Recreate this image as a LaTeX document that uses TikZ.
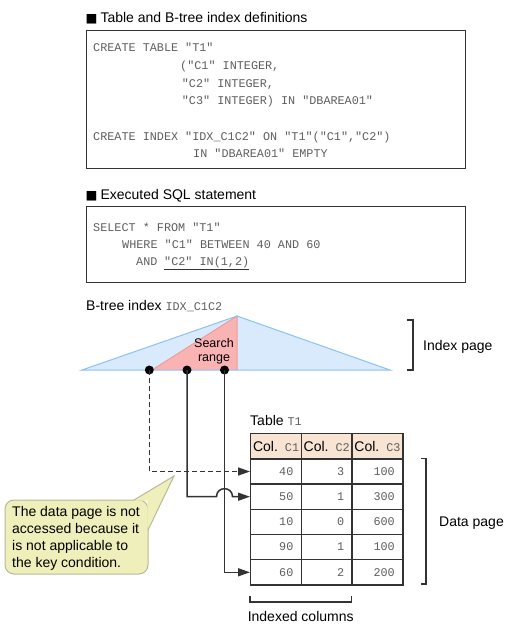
\documentclass[tikz,border=0pt]{standalone}
\usepackage{fontspec}
\setmainfont{Liberation Sans}
\setmonofont{Liberation Mono}
\newfontfamily\symfont{DejaVu Sans}
\usetikzlibrary{arrows.meta,calc}
\definecolor{codegray}{HTML}{5E5E5E}
\definecolor{linegray}{HTML}{333333}
\definecolor{boxline}{HTML}{333333}
\definecolor{bluefill}{HTML}{D8EAFB}
\definecolor{blueedge}{HTML}{8CC2F2}
\definecolor{redfill}{HTML}{F9B3B3}
\definecolor{rededge}{HTML}{EE9C9C}
\definecolor{headfill}{HTML}{F7E4D3}
\definecolor{notefill}{HTML}{EFEFBB}
\definecolor{noteedge}{HTML}{B8B896}
\newcommand\mysans{\fontsize{14}{16.9}\selectfont}
\newcommand\mymono{\fontsize{11.8}{17.6}\selectfont\ttfamily\color{codegray}}
\newcommand\blksq{{\symfont\fontsize{12.5}{12.5}\selectfont ■}}
\begin{document}
\begin{tikzpicture}[x=1pt,y=-1pt,
  lbl/.style={font=\mysans, inner sep=0pt, anchor=base west},
  code/.style={font=\mymono, inner sep=0pt, anchor=base west},
  codebox/.style={draw=boxline, line width=1.3pt, anchor=north west, inner sep=0pt},
  dot/.style={circle, fill=black, inner sep=0pt, minimum size=9pt},
  conn/.style={draw=linegray, line width=1.5pt, -{Triangle[length=12pt,width=8pt]}},
  brk/.style={draw=linegray, line width=1.2pt},
  cell/.style={draw=boxline, line width=1.4pt, minimum height=25.2pt, text width=34.7pt,
    inner xsep=8pt, inner ysep=0pt, align=right, font=\mymono, anchor=north west},
  headcell/.style={cell, fill=headfill, align=center, inner xsep=1pt, text width=48.7pt, font=\mysans},
  uline/.style={draw=linegray, line width=1.3pt}
]
\useasboundingbox (0,0) rectangle (508,629);

% ---- definitions box
\node[lbl] (t1) at (85.5,23) {\blksq\hspace{3pt}Table and B-tree index definitions};
\node[codebox, minimum width=379pt, minimum height=138pt] (box1) at (85.5,30) {};
\node[code] (l1) at (93,51.5) {CREATE TABLE "T1"};
\node[code] (l2) at (180,69.3) {("C1" INTEGER,};
\node[code] (l3) at (181.7,87) {"C2" INTEGER,};
\node[code] (l4) at (181.7,104.5) {"C3" INTEGER) IN "DBAREA01"};
\node[code] (l5) at (93,140.5) {CREATE INDEX "IDX\_C1C2" ON "T1"("C1","C2")};
\node[code] (l6) at (193,157) {IN "DBAREA01" EMPTY};

% ---- SQL box
\node[lbl] (t2) at (85.5,199.3) {\blksq\hspace{3pt}Executed SQL statement};
\node[codebox, minimum width=379pt, minimum height=76pt] (box2) at (85.5,206) {};
\node[code] (s1) at (93,231.7) {SELECT * FROM "T1"};
\node[code] (s2) at (122,248.3) {WHERE "C1" BETWEEN 40 AND 60};
\node[code] (s3) at (136,265.7) {AND};
\node[code] (u) at (164,265.7) {"C2" IN(1,2)};
\draw[uline] ([yshift=-3.6pt]u.base west) -- ([yshift=-3.6pt]u.base east);

% ---- B-tree index
\node[lbl] (t3) at (86,310) {B-tree index {\mymono IDX\_C1C2}};
\fill[bluefill] (82,370) -- (237,316) -- (390,370) -- cycle;
\fill[redfill] (152,370) -- (237,316) -- (237,370) -- cycle;
\draw[rededge, line width=1pt] (152,370) -- (237,316) -- (237,370);
\draw[blueedge, line width=1pt] (82,370) -- (237,316) -- (390,370) -- cycle;
\node[font=\fontsize{12.5}{13.5}\selectfont, align=center, inner sep=0pt] (sr) at (214,351.5) {Search\\range};

\draw[brk] (407,320) -- (413,320) -- (413,370) -- (407,370);
\node[lbl] (ip) at (423,350) {Index page};

% ---- table
\node[lbl] (tt) at (250,425) {Table {\mymono T1}};
\node[headcell] (h1) at (250,433) {Col. {\mymono C1}};
\node[headcell] (h2) at (300.7,433) {Col. {\mymono C2}};
\node[headcell] (h3) at (351.4,433) {Col. {\mymono C3}};
\foreach \a/\b/\c [count=\i] in {40/3/100,50/1/300,10/0/600,90/1/100,60/2/200}{
  \node[cell] (c\i1) at (250,{433+25.2*\i}) {\a};
  \node[cell] (c\i2) at (300.7,{433+25.2*\i}) {\b};
  \node[cell] (c\i3) at (351.4,{433+25.2*\i}) {\c};
}
\draw[brk] (421,458.2) -- (426,458.2) -- (426,584) -- (421,584);
\node[lbl] (dp) at (439,526.5) {Data page};
\draw[brk] (250,596) -- (250,602) -- (351.4,602) -- (351.4,596);
\node[lbl, anchor=base] (ic) at (300.7,621.7) {Indexed columns};

% ---- dots and connectors
\node[dot] (d1) at (149.3,370) {};
\node[dot] (d2) at (187,370) {};
\node[dot] (d3) at (224.5,370) {};
\coordinate (hop) at (d3 |- c21.west);
\draw[conn, dashed, dash pattern=on 5pt off 3pt] (d1.center) |- (c11.west);
\draw[conn] (d2.center) |- ([xshift=-8pt]hop) .. controls +(0,-10.7) and +(0,-10.7) .. ([xshift=8pt]hop) -- (c21.west);
\draw[conn] (d3.center) |- (c51.west);

% ---- callout
\filldraw[fill=notefill, draw=noteedge, line width=1pt, rounded corners=9pt] (5,500) rectangle (148,574);
\fill[notefill] (134,500.7) -- (174,476) -- (147.3,530) -- (147.3,500.7) -- cycle;
\draw[noteedge, line width=1pt] (134,500) -- (174,476) -- (148,530);
\node[font=\mysans, align=left, inner sep=0pt, anchor=north west] (note) at (12,506.6)
  {The data page is not\\accessed because it\\is not applicable to\\the key condition.};
\end{tikzpicture}
\end{document}
